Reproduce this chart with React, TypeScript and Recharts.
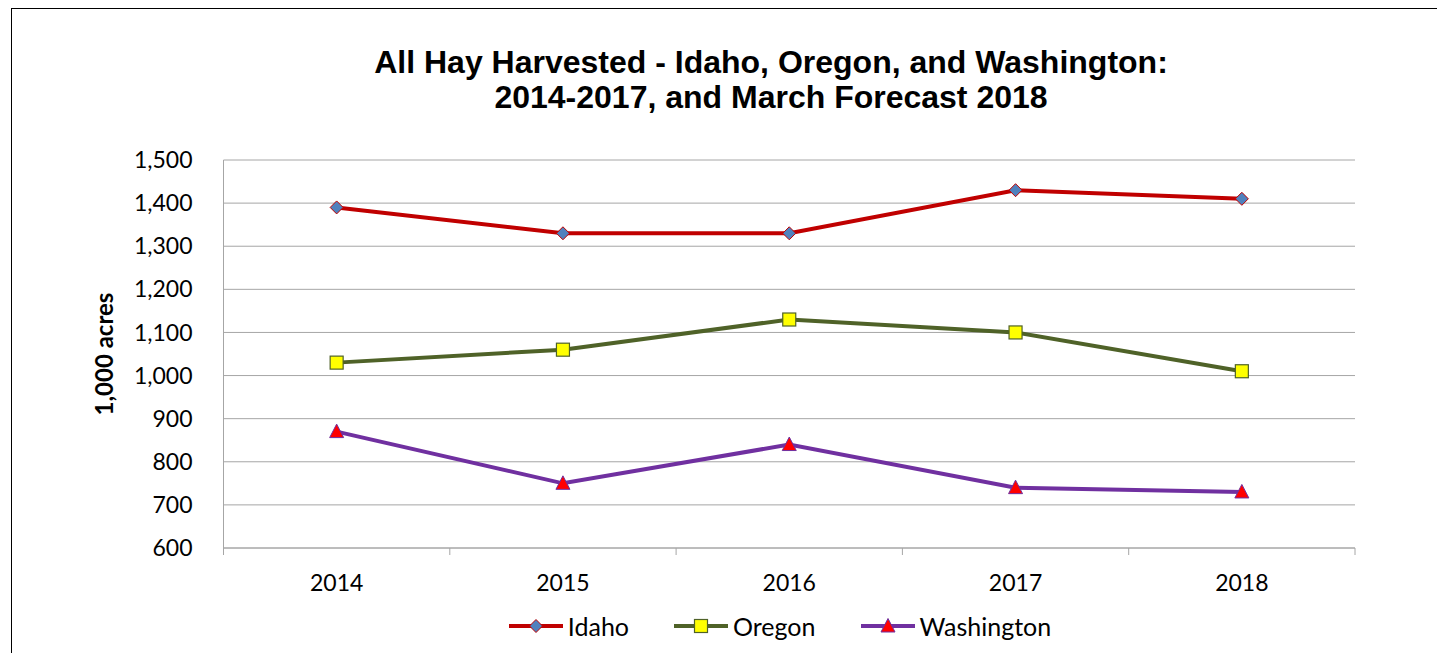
import React from 'react';
import { LineChart, Line, XAxis, YAxis, CartesianGrid, Legend } from 'recharts';

const years = ['2014', '2015', '2016', '2017', '2018'];
const idaho = [1390, 1330, 1330, 1430, 1410];
const oregon = [1030, 1060, 1130, 1100, 1010];
const washington = [870, 750, 840, 740, 730];
const yTicks = [600, 700, 800, 900, 1000, 1100, 1200, 1300, 1400, 1500];
const boundaryTicks = [-0.5, 0.5, 1.5, 2.5, 3.5, 4.5];
const centerTicks = years.map((_, i) => i);

const titleLines = [
  'All Hay Harvested - Idaho, Oregon, and Washington:',
  '2014-2017, and March Forecast 2018',
];

const data = years.map((year, i) => ({
  idx: i,
  year,
  Idaho: idaho[i],
  Oregon: oregon[i],
  Washington: washington[i],
}));

const TICK_FONT = 'Lato, "Open Sans", sans-serif';

const DiamondDot = (props: any) => {
  const { cx, cy } = props;
  if (cx == null || cy == null) return null;
  const r = 6.5;
  return (
    <path
      d={`M${cx},${cy - r}L${cx + r},${cy}L${cx},${cy + r}L${cx - r},${cy}Z`}
      fill="#4F81BD"
      stroke="#C00000"
      strokeWidth={1}
    />
  );
};

const SquareDot = (props: any) => {
  const { cx, cy } = props;
  if (cx == null || cy == null) return null;
  const r = 6.5;
  return (
    <rect x={cx - r} y={cy - r} width={2 * r} height={2 * r} fill="#FFFF00" stroke="#4F6228" strokeWidth={1.2} />
  );
};

const TriangleDot = (props: any) => {
  const { cx, cy } = props;
  if (cx == null || cy == null) return null;
  const r = 7;
  return (
    <path
      d={`M${cx},${cy - r - 0.5}L${cx + r},${cy + r - 1}L${cx - r},${cy + r - 1}Z`}
      fill="#FF0000"
      stroke="#7030A0"
      strokeWidth={1}
    />
  );
};

const series = [
  { key: 'Idaho', color: '#C00000', Dot: DiamondDot },
  { key: 'Oregon', color: '#4F6228', Dot: SquareDot },
  { key: 'Washington', color: '#7030A0', Dot: TriangleDot },
];

const LegendContent = () => (
  <div
    style={{
      display: 'flex',
      justifyContent: 'center',
      alignItems: 'center',
      paddingLeft: 193,
      fontFamily: TICK_FONT,
      fontSize: 25,
      color: '#000',
    }}
  >
    {series.map((s, i) => {
      const Dot = s.Dot;
      return (
        <div key={s.key} style={{ display: 'flex', alignItems: 'center', marginLeft: i === 0 ? 0 : 45 }}>
          <svg width={54} height={20} style={{ display: 'block' }}>
            <line x1={0} y1={10} x2={54} y2={10} stroke={s.color} strokeWidth={4} />
            <Dot cx={27} cy={10} />
          </svg>
          <span style={{ marginLeft: 5, lineHeight: '30px' }}>{s.key}</span>
        </div>
      );
    })}
  </div>
);

const YLabel = (props: any) => {
  const vb = props.viewBox || {};
  const cy = (vb.y ?? 151) + (vb.height ?? 388) / 2;
  const cx = 91;
  return (
    <text
      x={cx}
      y={cy}
      transform={`rotate(-90 ${cx} ${cy})`}
      textAnchor="middle"
      dominantBaseline="central"
      fontFamily={TICK_FONT}
      fontWeight="bold"
      fontSize={24}
      fill="#000"
    >
      1,000 acres
    </text>
  );
};

const EmptyTick = () => <g />;

export default function App() {
  return (
    <div
      style={{
        position: 'relative',
        marginLeft: 3,
        width: 1428,
        height: 644,
        borderTop: '1px solid #000',
        borderLeft: '1px solid #000',
        borderRight: '2px solid #404040',
        background: '#fff',
      }}
    >
      <div
        style={{
          position: 'absolute',
          top: 36,
          left: 0,
          width: 1428,
          paddingLeft: 90,
          boxSizing: 'border-box',
          textAlign: 'center',
          fontFamily: '"Liberation Sans", Arial, sans-serif',
          fontWeight: 'bold',
          fontSize: 32,
          lineHeight: '35px',
          color: '#000',
        }}
      >
        {titleLines.map((t) => (
          <div key={t}>{t}</div>
        ))}
      </div>
      <LineChart
        width={1428}
        height={644}
        data={data}
        margin={{ top: 151, right: 85, left: 0, bottom: 12 }}
      >
        <CartesianGrid xAxisId="a" horizontal vertical={false} stroke="#A6A6A6" strokeWidth={1} />
        <XAxis
          xAxisId="a"
          type="number"
          dataKey="idx"
          domain={[-0.5, 4.5]}
          ticks={boundaryTicks}
          tick={<EmptyTick />}
          tickSize={7}
          height={8}
          stroke="#A6A6A6"
          axisLine={{ stroke: '#A6A6A6' }}
          tickLine={{ stroke: '#A6A6A6' }}
          interval={0}
          allowDataOverflow
        />
        <XAxis
          xAxisId="b"
          type="number"
          dataKey="idx"
          domain={[-0.5, 4.5]}
          ticks={centerTicks}
          tickFormatter={(v: number) => years[v] ?? ''}
          tickLine={false}
          axisLine={false}
          tickSize={0}
          tickMargin={18.5}
          height={55}
          interval={0}
          tick={{ fill: '#000', fontSize: 23, fontFamily: TICK_FONT }}
          allowDataOverflow
        />
        <YAxis
          type="number"
          domain={[600, 1500]}
          ticks={yTicks}
          width={211.5}
          tickLine={false}
          tickSize={0}
          tickMargin={31}
          interval={0}
          axisLine={{ stroke: '#A6A6A6' }}
          tickFormatter={(v: number) => v.toLocaleString('en-US')}
          tick={{ fill: '#000', fontSize: 23, fontFamily: TICK_FONT }}
          label={<YLabel />}
          allowDataOverflow
        />
        <Legend verticalAlign="bottom" height={30} content={<LegendContent />} />
        {series.map((s) => (
          <Line
            key={s.key}
            xAxisId="a"
            type="linear"
            dataKey={s.key}
            stroke={s.color}
            strokeWidth={4}
            dot={<s.Dot />}
            activeDot={false}
            isAnimationActive={false}
          />
        ))}
      </LineChart>
    </div>
  );
}
